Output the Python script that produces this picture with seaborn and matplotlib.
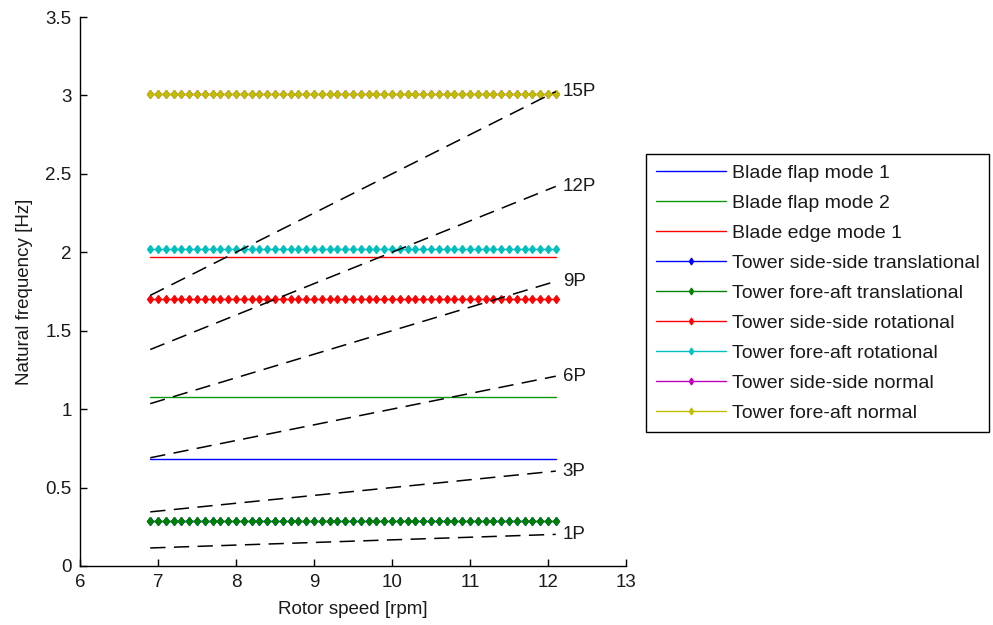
import numpy as np
import pandas as pd
import matplotlib
matplotlib.use("Agg")
import matplotlib.pyplot as plt
import seaborn as sns

# Rotor speed operating range [rpm]
rotor_speed = [6.9, 7.0, 7.1, 7.2, 7.3, 7.4, 7.5, 7.6, 7.7, 7.8, 7.9,
               8.0, 8.1, 8.2, 8.3, 8.4, 8.5, 8.6, 8.7, 8.8, 8.9,
               9.0, 9.1, 9.2, 9.3, 9.4, 9.5, 9.6, 9.7, 9.8, 9.9,
               10.0, 10.1, 10.2, 10.3, 10.4, 10.5, 10.6, 10.7, 10.8, 10.9,
               11.0, 11.1, 11.2, 11.3, 11.4, 11.5, 11.6, 11.7, 11.8, 11.9,
               12.0, 12.1]

# Natural frequencies of the structural modes [Hz]
mode_names = ["Blade flap mode 1", "Blade flap mode 2", "Blade edge mode 1",
              "Tower side-side translational", "Tower fore-aft translational",
              "Tower side-side rotational", "Tower fore-aft rotational",
              "Tower side-side normal", "Tower fore-aft normal"]
mode_freq = [0.68, 1.08, 1.97, 0.285, 0.285, 1.70, 2.02, 3.01, 3.01]
mode_colors = [(0, 0, 1), (0.05, 0.6, 0.05), (1, 0, 0),
               (0, 0, 1), (0, 0.5, 0), (1, 0, 0),
               (0, 0.75, 0.75), (0.75, 0, 0.75), (0.75, 0.75, 0)]
mode_marked = [False, False, False, True, True, True, True, True, True]

# Rotor harmonics: frequency at the lowest and highest rotor speed [Hz]
harmonic_labels = ["1P", "3P", "6P", "9P", "12P", "15P"]
harmonic_start = [0.115, 0.345, 0.69, 1.035, 1.38, 1.725]
harmonic_end = [0.2017, 0.605, 1.21, 1.815, 2.42, 3.025]

x_ticks = [6, 7, 8, 9, 10, 11, 12, 13]
y_ticks = [0, 0.5, 1, 1.5, 2, 2.5, 3, 3.5]
y_tick_labels = ["0", "0.5", "1", "1.5", "2", "2.5", "3", "3.5"]

sns.set_style("ticks")
plt.rcParams["font.family"] = ["Liberation Sans", "DejaVu Sans"]
plt.rcParams["font.size"] = 13
for key in ("text.color", "axes.labelcolor", "xtick.color", "ytick.color"):
    plt.rcParams[key] = "#1a1a1a"

fig = plt.figure(figsize=(9.93, 6.25), dpi=100)
ax = fig.add_axes([0.0806, 0.0944, 0.5498, 0.8784])

for name, f, c, marked in zip(mode_names, mode_freq, mode_colors, mode_marked):
    df = pd.DataFrame({"rpm": rotor_speed, "freq": [f] * len(rotor_speed)})
    kw = dict(marker="d", markersize=4.3, markeredgewidth=0.9,
              markerfacecolor=c, markeredgecolor=c) if marked else dict(marker=None)
    sns.lineplot(data=df, x="rpm", y="freq", ax=ax, color=c, linewidth=1.0,
                 label=name, estimator=None, **kw)

speed_ends = [rotor_speed[0], rotor_speed[-1]]
for lab, f0, f1 in zip(harmonic_labels, harmonic_start, harmonic_end):
    df = pd.DataFrame({"rpm": speed_ends, "freq": [f0, f1]})
    sns.lineplot(data=df, x="rpm", y="freq", ax=ax, color="black",
                 linewidth=1.1, dashes=False, estimator=None, legend=False)
    ax.lines[-1].set_linestyle((0, (10, 5.5)))
    ax.text(speed_ends[-1] + 0.09, f1, lab, ha="left", va="center", fontsize=13.5)

ax.set_xlim(6, 13)
ax.set_ylim(0, 3.5)
ax.set_xticks(x_ticks)
ax.set_yticks(y_ticks)
ax.set_yticklabels(y_tick_labels)
ax.tick_params(direction="in", length=5, width=1, labelsize=13.5, pad=6)
ax.tick_params(axis="both", colors="black", labelcolor="#1a1a1a")
ax.set_xlabel("Rotor speed [rpm]", fontsize=13.5, labelpad=7)
ax.set_ylabel("Natural frequency [Hz]", fontsize=13.5, labelpad=9)
sns.despine(ax=ax)
for s in ("left", "bottom"):
    ax.spines[s].set_color("black")
    ax.spines[s].set_linewidth(1.0)

leg = ax.legend(loc="upper left", bbox_to_anchor=(1.037, 0.750), borderaxespad=0,
                fontsize=14, frameon=True, fancybox=False, shadow=False,
                framealpha=1, edgecolor="black", handlelength=3.6,
                handletextpad=0.3, borderpad=0.5, labelspacing=0.64)
leg.get_frame().set_linewidth(1.0)
for h in leg.legend_handles:
    h.set_markersize(3.5)
for t in leg.get_texts():
    t.set_color("#1a1a1a")

fig.savefig("out.png", dpi=100, facecolor="white")
